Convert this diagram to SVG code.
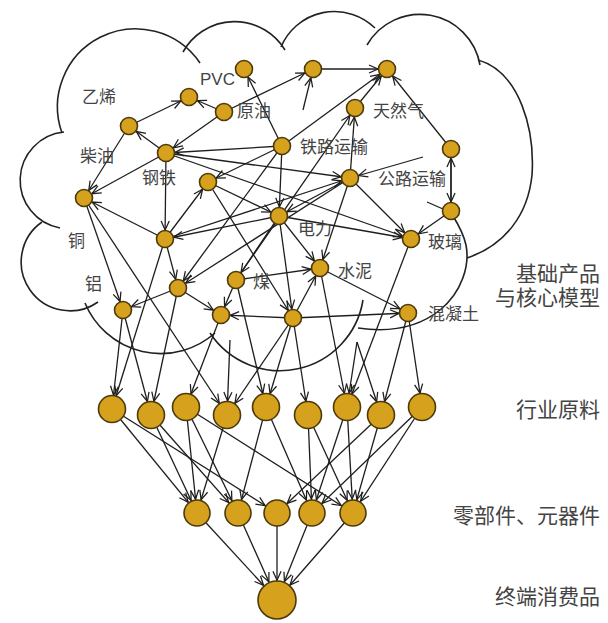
<svg xmlns="http://www.w3.org/2000/svg" width="608" height="623" viewBox="0 0 608 623">
<style>
.cloud{fill:none;stroke:#222;stroke-width:1.6}
.e{stroke:#1e1e1e;stroke-width:1.3;fill:none}
.s{marker-end:url(#as)}
.m{marker-end:url(#am)}
.b{marker-end:url(#ab)}
.nd{fill:#D6A11C;stroke:#4d3a0c;stroke-width:1.6}
.lb{font-family:"Liberation Sans","Noto Sans CJK SC",sans-serif;font-size:17px;fill:#444}
.rl{font-family:"Liberation Sans","Noto Sans CJK SC",sans-serif;font-size:21px;fill:#444;text-anchor:end}
</style>
<defs>
<marker id="as" viewBox="0 0 10 10" refX="20" refY="5" markerWidth="9" markerHeight="9" markerUnits="userSpaceOnUse" orient="auto" overflow="visible"><path d="M0,0.5 L10,5 L0,9.5" fill="none" stroke="#1e1e1e" stroke-width="1.4"/></marker>
<marker id="am" viewBox="0 0 10 10" refX="25.5" refY="5" markerWidth="9" markerHeight="9" markerUnits="userSpaceOnUse" orient="auto" overflow="visible"><path d="M0,0.5 L10,5 L0,9.5" fill="none" stroke="#1e1e1e" stroke-width="1.4"/></marker>
<marker id="ab" viewBox="0 0 10 10" refX="32" refY="5" markerWidth="9" markerHeight="9" markerUnits="userSpaceOnUse" orient="auto" overflow="visible"><path d="M0,0.5 L10,5 L0,9.5" fill="none" stroke="#1e1e1e" stroke-width="1.4"/></marker>
</defs>
<rect width="608" height="623" fill="#fff"/>
<g id="cloud">
<path class="cloud" d="M62,133 A78,78 0 0 1 200,63"/>
<path class="cloud" d="M183,52 A59,59 0 0 1 285,50"/>
<path class="cloud" d="M281,47 A58,58 0 0 1 375,28"/>
<path class="cloud" d="M367,45 A61,61 0 0 1 480,65"/>
<path class="cloud" d="M478,60 C520,72 535,130 532,175 C528,215 505,245 467,258"/>
<path class="cloud" d="M64,132 A48.5,48.5 0 0 0 60,228"/>
<path class="cloud" d="M42,222 A48,48 0 0 0 98,302"/>
<path class="cloud" d="M85,303 A82,82 0 0 0 215,333"/>
<path class="cloud" d="M210,333 A84,84 0 0 0 363,300"/>
<path class="cloud" d="M358,328 C385,332 415,330 440,310 C462,292 470,265 466,245 C463,232 458,224 453,216"/>
</g>
<g id="connectors">
<line class="e s" x1="129" y1="126" x2="189" y2="97"/>
<line class="e s" x1="224" y1="112" x2="189" y2="97"/>
<line class="e s" x1="224" y1="112" x2="313" y2="69"/>
<line class="e s" x1="282" y1="146" x2="244" y2="69"/>
<line class="e s" x1="313" y1="69" x2="387" y2="69"/>
<line class="e s" x1="224" y1="112" x2="166" y2="153"/>
<line class="e s" x1="166" y1="153" x2="129" y2="126"/>
<line class="e s" x1="129" y1="126" x2="84" y2="198"/>
<line class="e s" x1="166" y1="153" x2="84" y2="198"/>
<line class="e s" x1="282" y1="146" x2="166" y2="153"/>
<line class="e s" x1="282" y1="146" x2="387" y2="69"/>
<line class="e s" x1="355" y1="108" x2="387" y2="69"/>
<line class="e s" x1="451" y1="149" x2="387" y2="69"/>
<line class="e s" x1="350" y1="178" x2="355" y2="108"/>
<line class="e s" x1="303" y1="110" x2="313" y2="69"/>
<line class="e s" x1="166" y1="153" x2="350" y2="178"/>
<line class="e s" x1="166" y1="153" x2="411" y2="239"/>
<line class="e s" x1="282" y1="146" x2="208" y2="182"/>
<line class="e s" x1="282" y1="146" x2="279" y2="216"/>
<line class="e s" x1="350" y1="178" x2="279" y2="216"/>
<line class="e s" x1="350" y1="178" x2="320" y2="268"/>
<line class="e s" x1="350" y1="178" x2="411" y2="239"/>
<line class="e s" x1="279" y1="216" x2="320" y2="268"/>
<line class="e s" x1="279" y1="216" x2="293" y2="318"/>
<line class="e s" x1="279" y1="216" x2="411" y2="239"/>
<line class="e s" x1="236" y1="280" x2="320" y2="268"/>
<line class="e s" x1="293" y1="318" x2="320" y2="268"/>
<line class="e s" x1="320" y1="268" x2="408" y2="313"/>
<line class="e s" x1="451" y1="149" x2="451" y2="211"/>
<line class="e s" x1="451" y1="211" x2="451" y2="149"/>
<line class="e s" x1="451" y1="211" x2="411" y2="239"/>
<line class="e" x1="427" y1="202" x2="443" y2="209"/>
<line class="e s" x1="423" y1="157" x2="350" y2="178"/>
<line class="e s" x1="178" y1="288" x2="221" y2="315"/>
<line class="e s" x1="178" y1="288" x2="123" y2="310"/>
<line class="e s" x1="236" y1="280" x2="221" y2="315"/>
<line class="e s" x1="165" y1="239" x2="178" y2="288"/>
<line class="e s" x1="84" y1="198" x2="123" y2="310"/>
<line class="e s" x1="279" y1="216" x2="165" y2="239"/>
<line class="e s" x1="165" y1="239" x2="208" y2="182"/>
<line class="e s" x1="165" y1="239" x2="84" y2="198"/>
<line class="e s" x1="350" y1="178" x2="178" y2="288"/>
<line class="e s" x1="282" y1="146" x2="178" y2="288"/>
<line class="e s" x1="208" y1="182" x2="279" y2="216"/>
<line class="e s" x1="279" y1="216" x2="236" y2="280"/>
<line class="e s" x1="236" y1="280" x2="355" y2="108"/>
<line class="e s" x1="165" y1="239" x2="350" y2="178"/>
<line class="e s" x1="208" y1="182" x2="293" y2="318"/>
<line class="e s" x1="293" y1="318" x2="221" y2="315"/>
<line class="e s" x1="293" y1="318" x2="408" y2="313"/>
<line class="e s" x1="166" y1="153" x2="165" y2="239"/>
<line class="e m" x1="165" y1="239" x2="112" y2="409"/>
<line class="e m" x1="123" y1="310" x2="112" y2="409"/>
<line class="e m" x1="123" y1="310" x2="151" y2="415"/>
<line class="e m" x1="178" y1="288" x2="151" y2="415"/>
<line class="e m" x1="221" y1="315" x2="186" y2="407"/>
<line class="e m" x1="84" y1="198" x2="227" y2="415"/>
<line class="e m" x1="230" y1="340" x2="227" y2="415"/>
<line class="e m" x1="293" y1="318" x2="227" y2="415"/>
<line class="e m" x1="236" y1="280" x2="266" y2="407"/>
<line class="e m" x1="293" y1="318" x2="266" y2="407"/>
<line class="e m" x1="293" y1="318" x2="308" y2="415"/>
<line class="e m" x1="320" y1="268" x2="347" y2="407"/>
<line class="e m" x1="411" y1="239" x2="347" y2="407"/>
<line class="e m" x1="357" y1="342" x2="347" y2="407"/>
<line class="e m" x1="357" y1="342" x2="381" y2="415"/>
<line class="e m" x1="408" y1="313" x2="381" y2="415"/>
<line class="e m" x1="408" y1="313" x2="422" y2="407"/>
<line class="e m" x1="112" y1="409" x2="197" y2="513"/>
<line class="e m" x1="112" y1="409" x2="277" y2="513"/>
<line class="e m" x1="151" y1="415" x2="197" y2="513"/>
<line class="e m" x1="151" y1="415" x2="238" y2="513"/>
<line class="e m" x1="186" y1="407" x2="197" y2="513"/>
<line class="e m" x1="186" y1="407" x2="238" y2="513"/>
<line class="e m" x1="186" y1="407" x2="353" y2="513"/>
<line class="e m" x1="227" y1="415" x2="197" y2="513"/>
<line class="e m" x1="266" y1="407" x2="238" y2="513"/>
<line class="e m" x1="266" y1="407" x2="312" y2="513"/>
<line class="e m" x1="308" y1="415" x2="312" y2="513"/>
<line class="e m" x1="308" y1="415" x2="353" y2="513"/>
<line class="e m" x1="347" y1="407" x2="312" y2="513"/>
<line class="e m" x1="347" y1="407" x2="353" y2="513"/>
<line class="e m" x1="381" y1="415" x2="277" y2="513"/>
<line class="e m" x1="381" y1="415" x2="353" y2="513"/>
<line class="e m" x1="422" y1="407" x2="312" y2="513"/>
<line class="e m" x1="422" y1="407" x2="353" y2="513"/>
<line class="e b" x1="197" y1="513" x2="277" y2="600"/>
<line class="e b" x1="238" y1="513" x2="277" y2="600"/>
<line class="e b" x1="277" y1="513" x2="277" y2="600"/>
<line class="e b" x1="312" y1="513" x2="277" y2="600"/>
<line class="e b" x1="353" y1="513" x2="277" y2="600"/>
</g>
<g id="n-pvc"><circle class="nd" cx="244" cy="69" r="8.5"/><text class="lb" x="200" y="85">PVC</text></g>
<g id="n-top2"><circle class="nd" cx="313" cy="69" r="8.5"/></g>
<g id="n-tianranqi"><circle class="nd" cx="387" cy="69" r="8.5"/></g>
<g id="n-yixi"><circle class="nd" cx="189" cy="97" r="8.5"/><text class="lb" x="82" y="103">乙烯</text></g>
<g id="n-yuanyou"><circle class="nd" cx="224" cy="112" r="8.5"/><text class="lb" x="237" y="117">原油</text></g>
<g id="n-natgas"><circle class="nd" cx="355" cy="108" r="8.5"/><text class="lb" x="373" y="117">天然气</text></g>
<g id="n-chaiyou"><circle class="nd" cx="129" cy="126" r="8.5"/><text class="lb" x="80" y="162">柴油</text></g>
<g id="n-gangtie"><circle class="nd" cx="166" cy="153" r="8.5"/><text class="lb" x="142" y="184">钢铁</text></g>
<g id="n-tielu"><circle class="nd" cx="282" cy="146" r="8.5"/><text class="lb" x="300" y="153">铁路运输</text></g>
<g id="n-gonglu"><circle class="nd" cx="350" cy="178" r="8.5"/><text class="lb" x="378" y="185">公路运输</text></g>
<g id="n-rt"><circle class="nd" cx="451" cy="149" r="8.5"/></g>
<g id="n-bt"><circle class="nd" cx="451" cy="211" r="8.5"/></g>
<g id="n-boli"><circle class="nd" cx="411" cy="239" r="8.5"/><text class="lb" x="428" y="248">玻璃</text></g>
<g id="n-dianli"><circle class="nd" cx="279" cy="216" r="8.5"/><text class="lb" x="298" y="235">电力</text></g>
<g id="n-shuini"><circle class="nd" cx="320" cy="268" r="8.5"/><text class="lb" x="338" y="277">水泥</text></g>
<g id="n-hnt"><circle class="nd" cx="408" cy="313" r="8.5"/><text class="lb" x="428" y="320">混凝土</text></g>
<g id="n-16"><circle class="nd" cx="293" cy="318" r="8.5"/></g>
<g id="n-tong"><circle class="nd" cx="84" cy="198" r="8.5"/><text class="lb" x="68" y="247">铜</text></g>
<g id="n-18"><circle class="nd" cx="165" cy="239" r="8.5"/></g>
<g id="n-19"><circle class="nd" cx="208" cy="182" r="8.5"/></g>
<g id="n-20"><circle class="nd" cx="178" cy="288" r="8.5"/></g>
<g id="n-21"><circle class="nd" cx="123" cy="310" r="8.5"/><text class="lb" x="85" y="290">铝</text></g>
<g id="n-mei"><circle class="nd" cx="236" cy="280" r="8.5"/><text class="lb" x="253" y="288">煤</text></g>
<g id="n-23"><circle class="nd" cx="221" cy="315" r="8.5"/></g>
<g id="r1"><circle class="nd" cx="112" cy="409" r="13.5"/></g>
<g id="r2"><circle class="nd" cx="151" cy="415" r="13.5"/></g>
<g id="r3"><circle class="nd" cx="186" cy="407" r="13.5"/></g>
<g id="r4"><circle class="nd" cx="227" cy="415" r="13.5"/></g>
<g id="r5"><circle class="nd" cx="266" cy="407" r="13.5"/></g>
<g id="r6"><circle class="nd" cx="308" cy="415" r="13.5"/></g>
<g id="r7"><circle class="nd" cx="347" cy="407" r="13.5"/></g>
<g id="r8"><circle class="nd" cx="381" cy="415" r="13.5"/></g>
<g id="r9"><circle class="nd" cx="422" cy="407" r="13.5"/></g>
<g id="s1"><circle class="nd" cx="197" cy="513" r="13"/></g>
<g id="s2"><circle class="nd" cx="238" cy="513" r="13"/></g>
<g id="s3"><circle class="nd" cx="277" cy="513" r="13"/></g>
<g id="s4"><circle class="nd" cx="312" cy="513" r="13"/></g>
<g id="s5"><circle class="nd" cx="353" cy="513" r="13"/></g>
<g id="bottom"><circle class="nd" cx="277" cy="600" r="19"/></g>
<g id="row-labels">
<text class="rl" x="600" y="281">基础产品</text>
<text class="rl" x="600" y="305">与核心模型</text>
<text class="rl" x="600" y="417">行业原料</text>
<text class="rl" x="600" y="523">零部件、元器件</text>
<text class="rl" x="600" y="604">终端消费品</text>
</g>
</svg>
